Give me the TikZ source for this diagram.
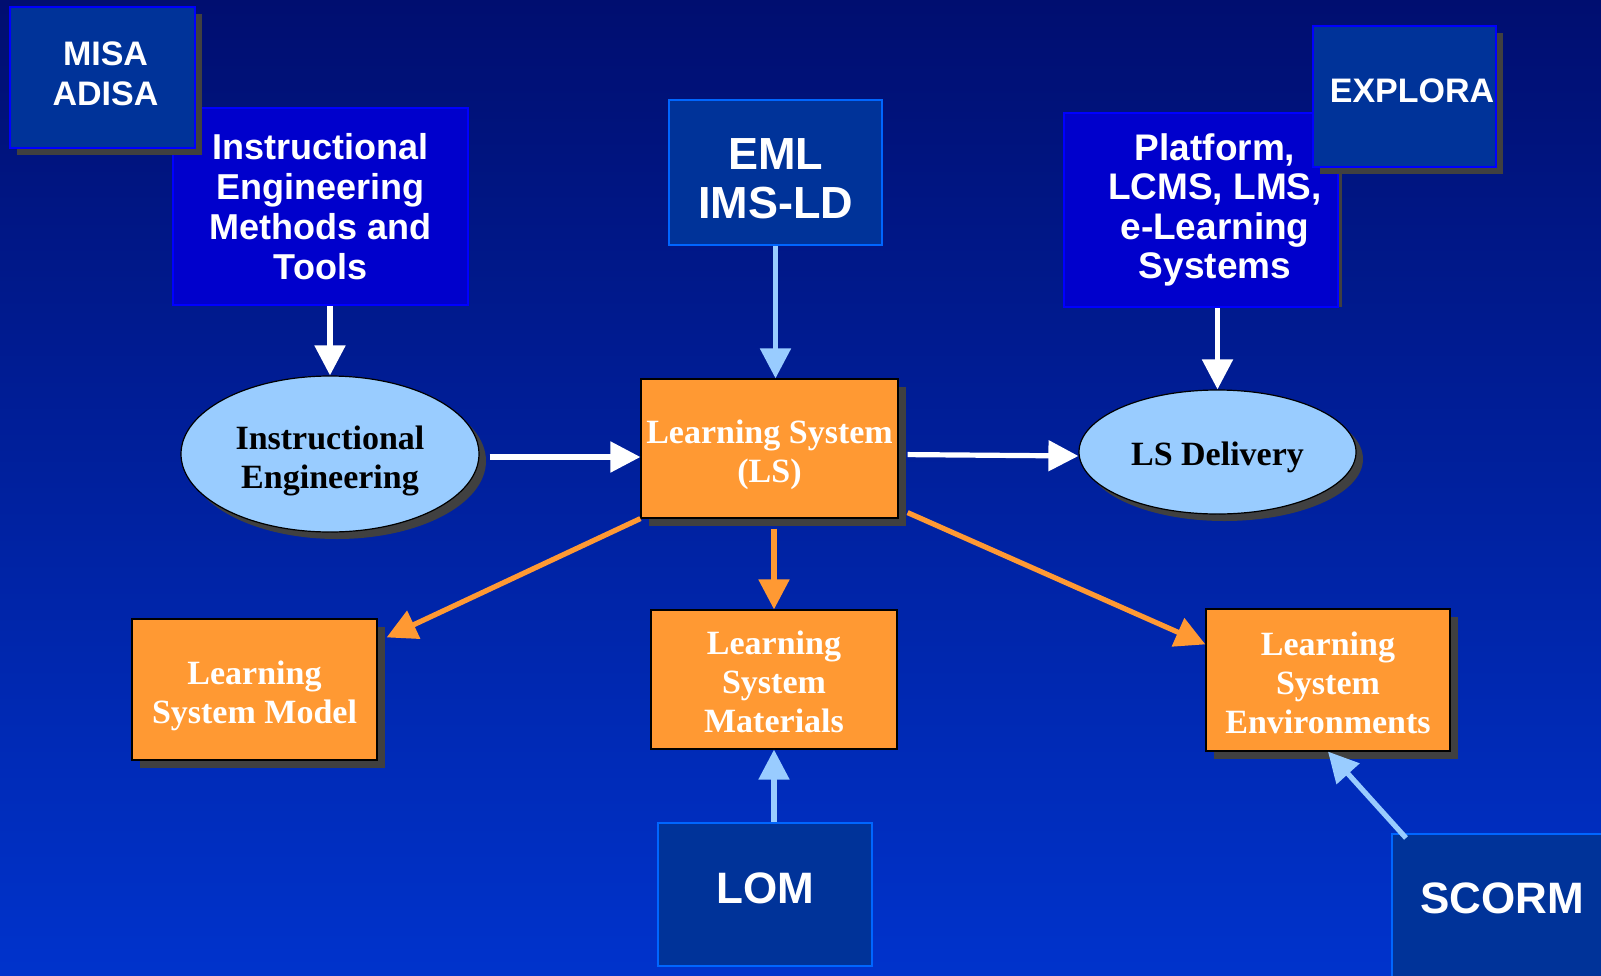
\documentclass[tikz,border=0pt]{standalone}
\usepackage{fontspec}
\setmainfont{Liberation Serif}
\setsansfont{Liberation Sans}
\usetikzlibrary{arrows.meta,shapes.geometric,shadows}

\definecolor{bgtop}{RGB}{0,14,112}
\definecolor{bgbot}{RGB}{0,51,204}
\definecolor{navybox}{RGB}{0,51,153}
\definecolor{royalbox}{RGB}{0,0,204}
\definecolor{lineblue}{RGB}{0,0,255}
\definecolor{skyline}{RGB}{0,102,255}
\definecolor{lsorange}{RGB}{255,153,51}
\definecolor{paleblue}{RGB}{153,204,255}
\definecolor{shadowgray}{RGB}{64,64,64}

\tikzset{
  shadowed/.style={drop shadow={shadow xshift=#1,shadow yshift=-#1,fill=shadowgray,opacity=1}},
  textbox/.style={text height=#1,text depth=0pt},
  navynode/.style={draw=skyline,line width=1pt,fill=navybox,text=white,inner sep=0pt,align=center,font=\sffamily\bfseries},
  royalnode/.style={draw=lineblue,line width=1pt,fill=royalbox,text=white,inner sep=0pt,align=center,font=\sffamily\bfseries},
  lsnode/.style={draw=black,line width=0.6pt,fill=lsorange,text=white,inner sep=0pt,align=center,
    font=\fontsize{17}{19.5}\selectfont\bfseries},
  phasenode/.style={ellipse,draw=black,line width=0.6pt,fill=paleblue,text=black,inner sep=0pt,align=center,
    font=\fontsize{17}{19.5}\selectfont\bfseries,shadowed=3.5pt},
  flow/.style={line width=2.6pt,-{Triangle[length=15pt,width=15pt]}},
}

\begin{document}
\begin{tikzpicture}[x=0.5pt,y=-0.5pt]
\useasboundingbox (0,0) rectangle (1601,975);
%Shape: background
\shade[top color=bgtop,bottom color=bgbot] (0,0) rectangle (1601,975);

%Shape: method boxes
\node [royalnode,minimum width=147.5pt,minimum height=98.5pt,font=\fontsize{18}{20}\selectfont\sffamily\bfseries] (iemt) at (320.5,206.5) {Instructional\\Engineering\\Methods and\\Tools};
\node [navynode,draw=lineblue,minimum width=92.5pt,minimum height=70.5pt,font=\fontsize{17}{20}\selectfont\sffamily\bfseries,textbox=28.2pt,shadowed=3.5pt] (misa) at (102.5,77.5) {\hspace*{3pt}MISA\\\hspace*{3pt}ADISA};
\node [navynode,minimum width=106.5pt,minimum height=72.5pt,font=\fontsize{22.5}{24.5}\selectfont\sffamily\bfseries,textbox=45.6pt] (eml) at (775.5,172.5) {EML\\IMS-LD};
\node [royalnode,minimum width=137pt,minimum height=97pt,font=\fontsize{18.5}{19.7}\selectfont\sffamily\bfseries,
  drop shadow={shadow xshift=2pt,shadow yshift=0pt,fill=shadowgray,opacity=1}] (platform) at (1201,210) {\hspace*{14pt}Platform,\\\hspace*{14pt}LCMS, LMS,\\\hspace*{14pt}e-Learning\\\hspace*{14pt}Systems};
\node [navynode,draw=lineblue,minimum width=91.5pt,minimum height=70.5pt,font=\fontsize{17}{19}\selectfont\sffamily\bfseries,text depth=6pt,shadowed=3.5pt] (explora) at (1404.5,96.5) {\hspace*{7.5pt}EXPLORA};

%Shape: learning system
\node [phasenode,minimum width=149pt,minimum height=78pt,textbox=34.1pt] (ie) at (330,454) {Instructional\\Engineering};
\node [lsnode,shadowed=4pt,minimum width=128.5pt,minimum height=69.5pt,textbox=34.2pt] (ls) at (769.5,448.5) {Learning System\\(LS)};
\node [phasenode,minimum width=138.5pt,minimum height=62pt,textbox=13pt] (lsd) at (1217.5,452) {LS Delivery};
\node [lsnode,shadowed=4pt,minimum width=122.5pt,minimum height=70.5pt,textbox=33.5pt] (lsm) at (254.5,689.5) {Learning\\System Model};
\node [lsnode,minimum width=123pt,minimum height=69.5pt,textbox=52.7pt] (lsmat) at (774,679.5) {Learning\\System\\Materials};
\node [lsnode,shadowed=4pt,minimum width=122pt,minimum height=71pt,textbox=53.7pt] (lse) at (1328,680) {Learning\\System\\Environments};

%Shape: standards
\node [navynode,minimum width=107pt,minimum height=71.5pt,font=\fontsize{22}{24}\selectfont\sffamily\bfseries,text depth=6pt] (lom) at (765,894.5) {LOM};
\node [navynode,minimum width=110pt,minimum height=78pt,font=\fontsize{22}{24}\selectfont\sffamily\bfseries,text depth=14pt] (scorm) at (1502,912) {SCORM};

%Straight Lines: white
\coordinate (ieout) at ([yshift=-1.5pt]ie.east);
\draw [flow,white] (iemt.south -| ie.north) -- (ie.north);
\draw [flow,white] (platform.south -| lsd.north) -- (lsd.north);
\draw [flow,white,shorten <=5pt] (ieout) -- (ls.west |- ieout);
\draw [flow,white,shorten <=4.5pt] ([yshift=-3pt]ls.east) -- ([yshift=-2pt]lsd.west);
%Straight Lines: light blue
\draw [flow,paleblue] (eml.south) -- (eml.south |- ls.north);
\draw [flow,paleblue] (lom.north -| lsmat.south) -- (lsmat.south);
\draw [flow,paleblue] ([xshift=7.5pt,yshift=-2.5pt]scorm.north west) -- (lse.south);
%Straight Lines: orange
\draw [flow,lsorange] (ls.south west) -- ([shift={(9,19)}]lsm.north east);
\draw [flow,lsorange,shorten <=5pt] (ls.south -| lsmat.north) -- (lsmat.north);
\draw [flow,lsorange] ([xshift=4.5pt,yshift=3pt]ls.south east) -- ([yshift=-18pt]lse.north west);

\end{tikzpicture}
\end{document}
